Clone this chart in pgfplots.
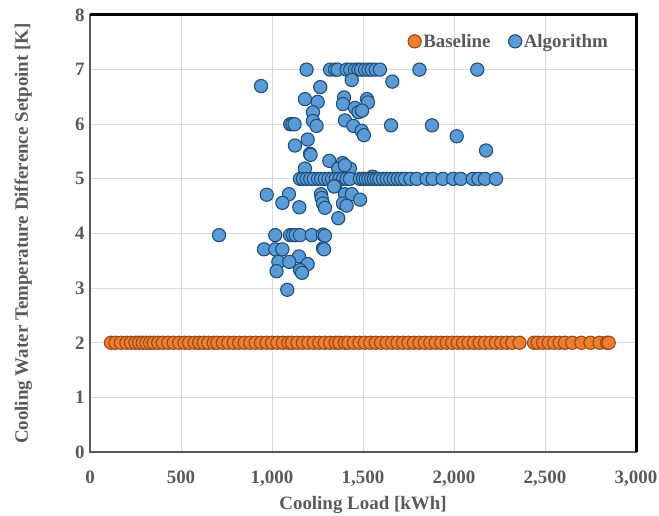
\documentclass[border=0pt]{standalone}
\usepackage{fontspec}
\setmainfont{Liberation Serif}
\usepackage{pgfplots}
\pgfplotsset{compat=1.18}
\usetikzlibrary{calc}
\definecolor{txt}{HTML}{595959}
\definecolor{borange}{HTML}{ED7D31}
\definecolor{dorange}{HTML}{9A4A16}
\definecolor{bblue}{HTML}{5B9BD5}
\definecolor{dblue}{HTML}{1F4E79}
\definecolor{grd}{HTML}{D9D9D9}
\begin{document}
\begin{tikzpicture}
\begin{axis}[name=ax, scale only axis, width=546bp, height=437bp,
  xmin=0, xmax=3000, ymin=0, ymax=8,
  xtick={0,500,...,3000}, ytick={0,1,...,8},
  grid=major, grid style={grd, line width=0.9pt},
  axis line style={draw=none},
  tick style={draw=none},
  /pgf/number format/assume math mode=true,
  /pgf/number format/1000 sep={,},
  scaled x ticks=false,
  ticklabel style={font=\fontsize{19}{22}\selectfont\bfseries, text=txt},
  xticklabel style={yshift=-15bp},
  yticklabel style={xshift=-2bp},
  xlabel={Cooling Load [kWh]},
  ylabel={Cooling Water Temperature Difference Setpoint [K]},
  label style={font=\fontsize{19}{22}\selectfont\bfseries, text=txt},
  xlabel style={yshift=-3bp},
  ylabel style={yshift=36bp},
  legend columns=2,
  legend style={at={(0.958,0.966)}, anchor=north east, draw=none, fill=none,
    font=\fontsize{19}{22}\selectfont\bfseries, text=txt,
    /tikz/every even column/.append style={column sep=16bp}},
  legend cell align=left,
]
\addplot[only marks, mark=*, mark size=6.6bp, mark options={fill=borange, draw=dorange, line width=1.1pt}] coordinates {
(115,2)(140,2)(170,2)(200,2)(225,2)(250,2)(270,2)(290,2)(310,2)(330,2)(350,2)(375,2)(400,2)(430,2)(460,2)(490,2)(520,2)(545,2)(575,2)(600,2)(625,2)(650,2)(680,2)(700,2)(730,2)(760,2)(790,2)(820,2)(850,2)(880,2)(910,2)(940,2)(970,2)(1000,2)(1030,2)(1060,2)(1090,2)(1110,2)(1140,2)(1170,2)(1200,2)(1230,2)(1260,2)(1290,2)(1320,2)(1350,2)(1370,2)(1400,2)(1420,2)(1450,2)(1480,2)(1510,2)(1540,2)(1570,2)(1600,2)(1630,2)(1660,2)(1690,2)(1720,2)(1750,2)(1780,2)(1810,2)(1840,2)(1870,2)(1900,2)(1930,2)(1960,2)(1990,2)(2020,2)(2050,2)(2080,2)(2110,2)(2140,2)(2170,2)(2200,2)(2230,2)(2260,2)(2290,2)(2320,2)(2360,2)(2440,2)(2460,2)(2490,2)(2520,2)(2550,2)(2580,2)(2610,2)(2650,2)(2700,2)(2750,2)(2800,2)(2840,2)(2850,2)
};
\addlegendentry{Baseline}
\addplot[only marks, mark=*, mark size=6.6bp, mark options={fill=bblue, draw=dblue, line width=1.1pt}] coordinates {
(1190,7)(1319,7)(1346,7)(1360,7)(1410,7)(1430,7)(1456,7)(1474,7)(1490,7)(1511,7)(1530,7)(1548,7)(1570,7)(1593,7)(1810,7)(2128,7)
(940,6.7)(1265,6.68)(1438,6.81)(1661,6.78)(1181,6.46)(1251,6.41)(1396,6.49)(1522,6.46)(1527,6.4)(1390,6.37)(1456,6.3)(1475,6.22)(1495,6.25)(1225,6.22)(1225,6.06)(1245,5.97)(1100,6)(1112,6)(1124,6)(1401,6.07)(1447,5.97)(1654,5.98)(1879,5.98)(2015,5.78)(1493,5.88)(1505,5.8)(1196,5.72)(1126,5.61)(1209,5.46)(2176,5.52)
(1181,5.19)(1212,5.44)(1315,5.33)(1388,5.29)(1364,5.19)(1428,5.19)(1400,5.25)(1553,5.04)
(1154,5)(1170,5)(1190,5)(1210,5)(1230,5)(1253,5)(1270,5)(1290,5)(1310,5)(1330,5)(1350,5)(1370,5)(1390,5)(1410,5)(1428,5)
(1483,5)(1500,5)(1515,5)(1530,5)(1545,5)(1560,5)(1575,5)(1590,5)(1610,5)(1630,5)(1650,5)(1670,5)(1690,5)(1710,5)(1730,5)(1760,5)(1795,5)
(1850,5)(1883,5)(1938,5)(1996,5)(2037,5)(2103,5)(2134,5)(2170,5)(2231,5)
(1346,4.87)(1341,4.86)(971,4.71)(1093,4.72)(1057,4.56)(1150,4.48)(1269,4.72)(1273,4.65)(1280,4.55)(1291,4.47)(1401,4.72)(1438,4.72)(1484,4.62)(1390,4.55)(1410,4.51)(1364,4.28)
(709,3.97)(1018,3.97)(1099,3.97)(1115,3.97)(1130,3.97)(1154,3.97)(1218,3.97)(1280,3.98)(1291,3.96)
(956,3.71)(1018,3.71)(1057,3.71)(1280,3.73)(1286,3.71)(1148,3.58)(1035,3.48)(1095,3.48)(1196,3.44)(1025,3.31)(1154,3.33)(1165,3.28)(1084,2.97)
};
\addlegendentry{Algorithm}
\end{axis}
\draw[black!65, line width=1.6pt] (ax.south west) rectangle (ax.north east);
\draw[black, line width=2.6pt] ($(ax.north west)+(0,0.6bp)$) -- ($(ax.north east)+(0.6bp,0.6bp)$) -- ($(ax.south east)+(0.6bp,0)$);
\pgfresetboundingbox
\path[use as bounding box] ($(ax.south west)+(-90bp,-64bp)$) rectangle ($(ax.north east)+(23bp,15bp)$);
\end{tikzpicture}
\end{document}
